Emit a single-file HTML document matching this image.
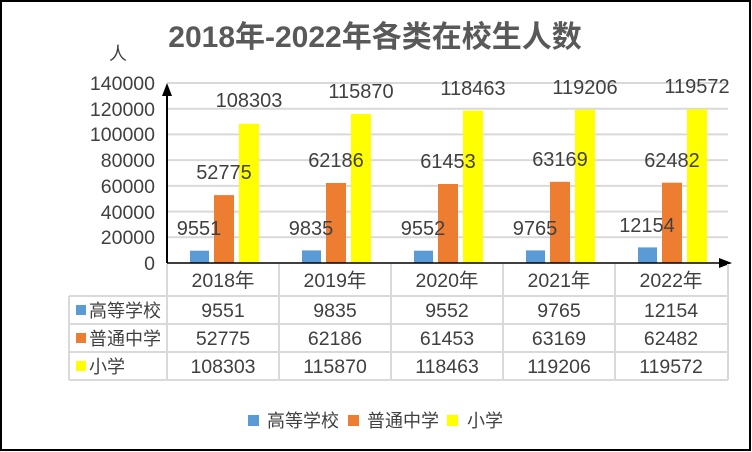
<!DOCTYPE html>
<html><head><meta charset="utf-8"><style>
html,body{margin:0;padding:0;background:#fff}
svg{display:block}
text{font-family:"Liberation Sans","Noto Sans CJK SC",sans-serif;fill:#404040}
</style></head><body>
<svg width="752" height="452" viewBox="0 0 752 452" xmlns="http://www.w3.org/2000/svg">
<rect x="1" y="1" width="749" height="449" fill="#fff" stroke="#000" stroke-width="2"/>
<text x="375" y="47" font-size="30" font-weight="bold" text-anchor="middle" style="fill:#595959">2018年-2022年各类在校生人数</text>
<text x="118" y="60" font-size="18" text-anchor="middle">人</text>
<g stroke="#d9d9d9" stroke-width="2">
<line x1="167" y1="83" x2="728" y2="83"/>
<line x1="167" y1="108.7" x2="728" y2="108.7"/>
<line x1="167" y1="134.4" x2="728" y2="134.4"/>
<line x1="167" y1="160.1" x2="728" y2="160.1"/>
<line x1="167" y1="185.9" x2="728" y2="185.9"/>
<line x1="167" y1="211.6" x2="728" y2="211.6"/>
<line x1="167" y1="237.3" x2="728" y2="237.3"/>
</g>
<g font-size="19.5" text-anchor="end">
<text x="155" y="90">140000</text>
<text x="155" y="116">120000</text>
<text x="155" y="141">100000</text>
<text x="155" y="167">80000</text>
<text x="155" y="193">60000</text>
<text x="155" y="219">40000</text>
<text x="155" y="244">20000</text>
<text x="155" y="270">0</text>
</g>
<g>
<rect x="190" y="250.7" width="19" height="12.3" fill="#5b9bd5"/>
<rect x="214" y="195.1" width="20" height="67.9" fill="#ed7d31"/>
<rect x="239" y="123.8" width="20" height="139.2" fill="#ffff00"/>
<rect x="302" y="250.4" width="19" height="12.6" fill="#5b9bd5"/>
<rect x="326" y="183.0" width="20" height="80.0" fill="#ed7d31"/>
<rect x="351" y="114.0" width="20" height="149.0" fill="#ffff00"/>
<rect x="414" y="250.7" width="19" height="12.3" fill="#5b9bd5"/>
<rect x="438" y="184.0" width="20" height="79.0" fill="#ed7d31"/>
<rect x="463" y="110.7" width="20" height="152.3" fill="#ffff00"/>
<rect x="526" y="250.4" width="19" height="12.6" fill="#5b9bd5"/>
<rect x="550" y="181.8" width="20" height="81.2" fill="#ed7d31"/>
<rect x="575" y="109.7" width="20" height="153.3" fill="#ffff00"/>
<rect x="638" y="247.4" width="19" height="15.6" fill="#5b9bd5"/>
<rect x="662" y="182.7" width="20" height="80.3" fill="#ed7d31"/>
<rect x="687" y="109.3" width="20" height="153.7" fill="#ffff00"/>
</g>
<g font-size="20" text-anchor="middle">
<text x="199" y="235">9551</text><text x="224" y="179">52775</text><text x="249" y="107">108303</text>
<text x="311" y="235">9835</text><text x="336" y="167">62186</text><text x="361" y="98">115870</text>
<text x="423" y="235">9552</text><text x="448" y="168">61453</text><text x="473" y="95">118463</text>
<text x="535" y="235">9765</text><text x="560" y="166">63169</text><text x="585" y="94">119206</text>
<text x="647" y="232">12154</text><text x="672" y="167">62482</text><text x="697" y="93">119572</text>
</g>
<line x1="167" y1="263" x2="722" y2="263" stroke="#000" stroke-width="1.5"/>
<polygon points="732,263 719,258 719,268" fill="#000"/>
<line x1="167" y1="263" x2="167" y2="92" stroke="#000" stroke-width="2"/>
<polygon points="167,83 162,96 172,96" fill="#000"/>
<g stroke="#d9d9d9" stroke-width="2" fill="none">
<line x1="167" y1="264" x2="167" y2="380"/>
<line x1="279" y1="264" x2="279" y2="380"/>
<line x1="391" y1="264" x2="391" y2="380"/>
<line x1="503" y1="264" x2="503" y2="380"/>
<line x1="615" y1="264" x2="615" y2="380"/>
<line x1="728" y1="264" x2="728" y2="380"/>
<line x1="69" y1="296" x2="728" y2="296"/>
<line x1="69" y1="324" x2="728" y2="324"/>
<line x1="69" y1="352" x2="728" y2="352"/>
<line x1="69" y1="380" x2="728" y2="380"/>
<line x1="69" y1="296" x2="69" y2="380"/>
</g>
<g font-size="19.5" text-anchor="middle">
<text x="223" y="287">2018年</text><text x="335" y="287">2019年</text><text x="447" y="287">2020年</text><text x="559" y="287">2021年</text><text x="671" y="287">2022年</text>
<text x="223" y="317">9551</text><text x="335" y="317">9835</text><text x="447" y="317">9552</text><text x="559" y="317">9765</text><text x="671" y="317">12154</text>
<text x="223" y="345">52775</text><text x="335" y="345">62186</text><text x="447" y="345">61453</text><text x="559" y="345">63169</text><text x="671" y="345">62482</text>
<text x="223" y="373">108303</text><text x="335" y="373">115870</text><text x="447" y="373">118463</text><text x="559" y="373">119206</text><text x="671" y="373">119572</text>
</g>
<rect x="76" y="305" width="10" height="10" fill="#5b9bd5"/>
<rect x="76" y="333" width="10" height="10" fill="#ed7d31"/>
<rect x="76" y="361" width="10" height="10" fill="#ffff00"/>
<g font-size="18">
<text x="89" y="317">高等学校</text>
<text x="89" y="345">普通中学</text>
<text x="89" y="373">小学</text>
</g>
<rect x="248" y="415" width="11" height="11" fill="#5b9bd5"/>
<text x="267" y="427" font-size="18">高等学校</text>
<rect x="348" y="415" width="11" height="11" fill="#ed7d31"/>
<text x="367" y="427" font-size="18">普通中学</text>
<rect x="447" y="415" width="11" height="11" fill="#ffff00"/>
<text x="467" y="427" font-size="18">小学</text>
</svg>
</body></html>
